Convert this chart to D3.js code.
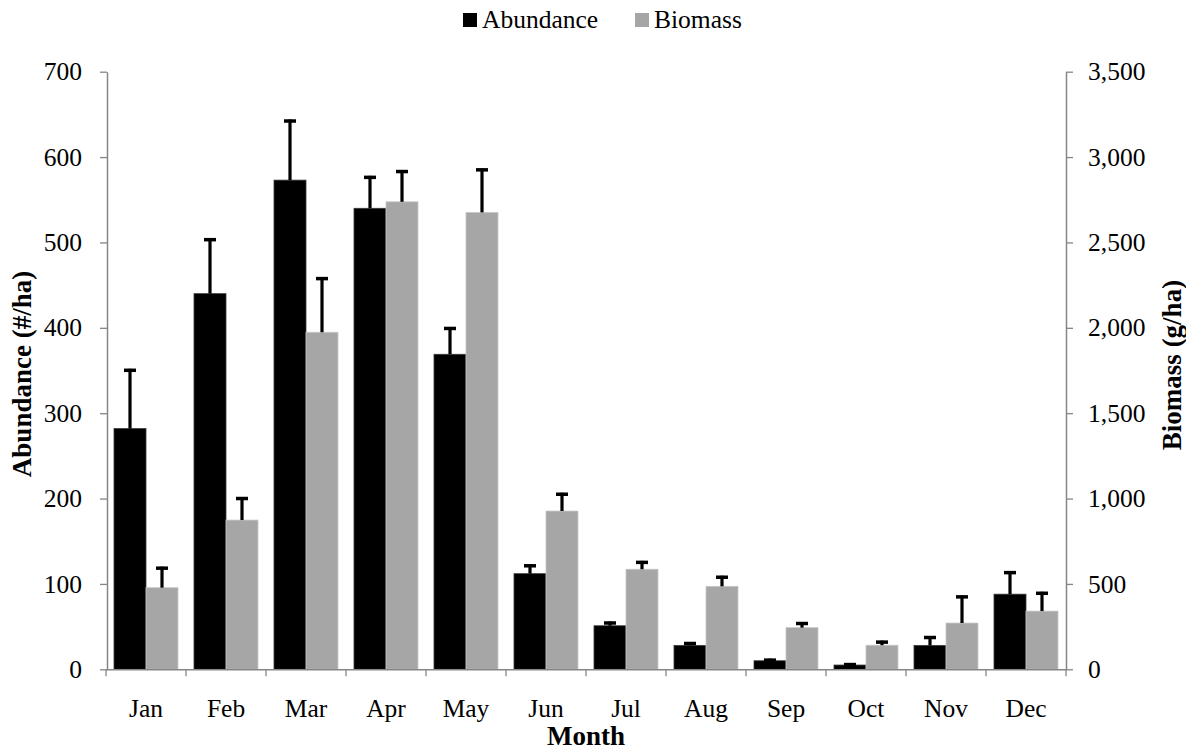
<!DOCTYPE html>
<html>
<head>
<meta charset="utf-8">
<script src="https://cdn.jsdelivr.net/npm/d3@7"></script>
<style>
  html, body { margin: 0; padding: 0; background: #fff; }
  svg { display: block; font-family: "Liberation Serif", "Times New Roman", serif; }
</style>
</head>
<body>
<svg id="chart" width="1186" height="751"></svg>
<script>
const months = ["Jan","Feb","Mar","Apr","May","Jun","Jul","Aug","Sep","Oct","Nov","Dec"];
const seriesNames = ["Abundance","Biomass"];
const abundance    = [282, 440, 573, 540, 369, 112, 51, 28, 10, 5, 28, 88];
const abundanceErr = [70, 65, 71, 38, 32, 11, 5, 4, 2.5, 2.3, 11, 27];
const biomass      = [478, 874, 1974, 2738, 2676, 927, 586, 486, 244, 141, 271, 341];
const biomassErr   = [123, 135, 323, 186, 258, 107, 49, 62, 33, 27, 162, 113];
const leftTicks  = [0,100,200,300,400,500,600,700];
const rightTicks = [0,500,1000,1500,2000,2500,3000,3500];

(function () {
const svg = d3.select("#chart");
const axisColor = "#868686";
const colors = {Abundance: "#000000", Biomass: "#a6a6a6"};
const fontSize = 25.5;
const titleSize = 27;

const pLeft = 106, pRight = 1066, pTop = 71.7, pBottom = 669.3;

const x = d3.scaleBand().domain(months).range([pLeft, pRight]).padding(0);
const xSub = d3.scaleBand().domain(seriesNames).range([0, x.bandwidth()]).paddingInner(0).paddingOuter(0.25);
const yL = d3.scaleLinear().domain([0, 700]).range([pBottom, pTop]);
const yR = d3.scaleLinear().domain([0, 3500]).range([pBottom, pTop]);

const rows = months.map((m, i) => ({
  month: m,
  vals: [
    {s: "Abundance", v: abundance[i], e: abundanceErr[i], y: yL},
    {s: "Biomass", v: biomass[i], e: biomassErr[i], y: yR}
  ]
}));

// bars
const g = svg.append("g");
const groups = g.selectAll("g.m").data(rows).join("g")
  .attr("transform", d => `translate(${x(d.month)},0)`);

groups.selectAll("rect").data(d => d.vals).join("rect")
  .attr("x", d => xSub(d.s))
  .attr("width", xSub.bandwidth())
  .attr("y", d => d.y(d.v))
  .attr("height", d => pBottom - d.y(d.v))
  .attr("fill", d => colors[d.s])
  .attr("stroke", d => d.s === "Biomass" ? "#c8c8c8" : "#3a3a3a")
  .attr("stroke-width", 0.8);

// error bars
const eb = groups.selectAll("g.err").data(d => d.vals).join("g").attr("class", "err");
eb.append("line")
  .attr("x1", d => xSub(d.s) + xSub.bandwidth() / 2)
  .attr("x2", d => xSub(d.s) + xSub.bandwidth() / 2)
  .attr("y1", d => d.y(d.v))
  .attr("y2", d => d.y(d.v + d.e))
  .attr("stroke", "#000").attr("stroke-width", 3.2);
eb.append("line")
  .attr("x1", d => xSub(d.s) + xSub.bandwidth() / 2 - 6)
  .attr("x2", d => xSub(d.s) + xSub.bandwidth() / 2 + 6)
  .attr("y1", d => d.y(d.v + d.e) + 1.5)
  .attr("y2", d => d.y(d.v + d.e) + 1.5)
  .attr("stroke", "#000").attr("stroke-width", 3.5);

// left axis
const axL = svg.append("g").attr("transform", `translate(${pLeft + 1},0)`)
  .call(d3.axisLeft(yL).tickValues(leftTicks).tickSize(7).tickSizeOuter(0).tickPadding(18).tickFormat(d3.format("d")));
// right axis
const axR = svg.append("g").attr("transform", `translate(${pRight},0)`)
  .call(d3.axisRight(yR).tickValues(rightTicks).tickSize(7).tickSizeOuter(0).tickPadding(15).tickFormat(d3.format(",")));
// bottom axis (labels)
const axB = svg.append("g").attr("transform", `translate(0,${pBottom})`)
  .call(d3.axisBottom(x).tickSize(0).tickPadding(30));
axB.select(".domain").remove();
// bottom axis line + boundary ticks
svg.append("line").attr("x1", pLeft).attr("x2", pRight + 1).attr("y1", pBottom + 0.5).attr("y2", pBottom + 0.5)
  .attr("stroke", axisColor).attr("stroke-width", 1.5);
const bounds = months.map(m => x(m)).concat([x(months[months.length - 1]) + x.bandwidth()]);
svg.append("g").selectAll("line").data(bounds).join("line")
  .attr("x1", d => d).attr("x2", d => d)
  .attr("y1", pBottom).attr("y2", pBottom + 7)
  .attr("stroke", axisColor).attr("stroke-width", 1.3);

[axL, axR, axB].forEach(a => {
  a.selectAll(".domain").attr("stroke", axisColor).attr("stroke-width", 1.5);
  a.selectAll(".tick line").attr("stroke", axisColor).attr("stroke-width", 1.3);
  a.selectAll("text").attr("font-size", fontSize).attr("fill", "#000")
    .attr("font-family", "'Liberation Serif', 'Times New Roman', serif");
});

// axis titles
svg.append("text").attr("transform", `translate(31,374) rotate(-90)`)
  .attr("text-anchor", "middle").attr("font-size", titleSize).attr("font-weight", "bold").text("Abundance (#/ha)");
svg.append("text").attr("transform", `translate(1181,365) rotate(-90)`)
  .attr("text-anchor", "middle").attr("font-size", titleSize).attr("font-weight", "bold").text("Biomass (g/ha)");
svg.append("text").attr("x", (pLeft + pRight) / 2).attr("y", 745)
  .attr("text-anchor", "middle").attr("font-size", titleSize).attr("font-weight", "bold").text("Month");

// legend
const legendX = [463, 635];
const leg = svg.append("g").selectAll("g").data(seriesNames).join("g")
  .attr("transform", (d, i) => `translate(${legendX[i]},0)`);
leg.append("rect").attr("x", 0).attr("y", 13).attr("width", 14).attr("height", 14)
  .attr("fill", d => colors[d]);
leg.append("text").attr("x", 19).attr("y", 28).attr("font-size", fontSize).text(d => d);
})();
</script>
</body>
</html>
